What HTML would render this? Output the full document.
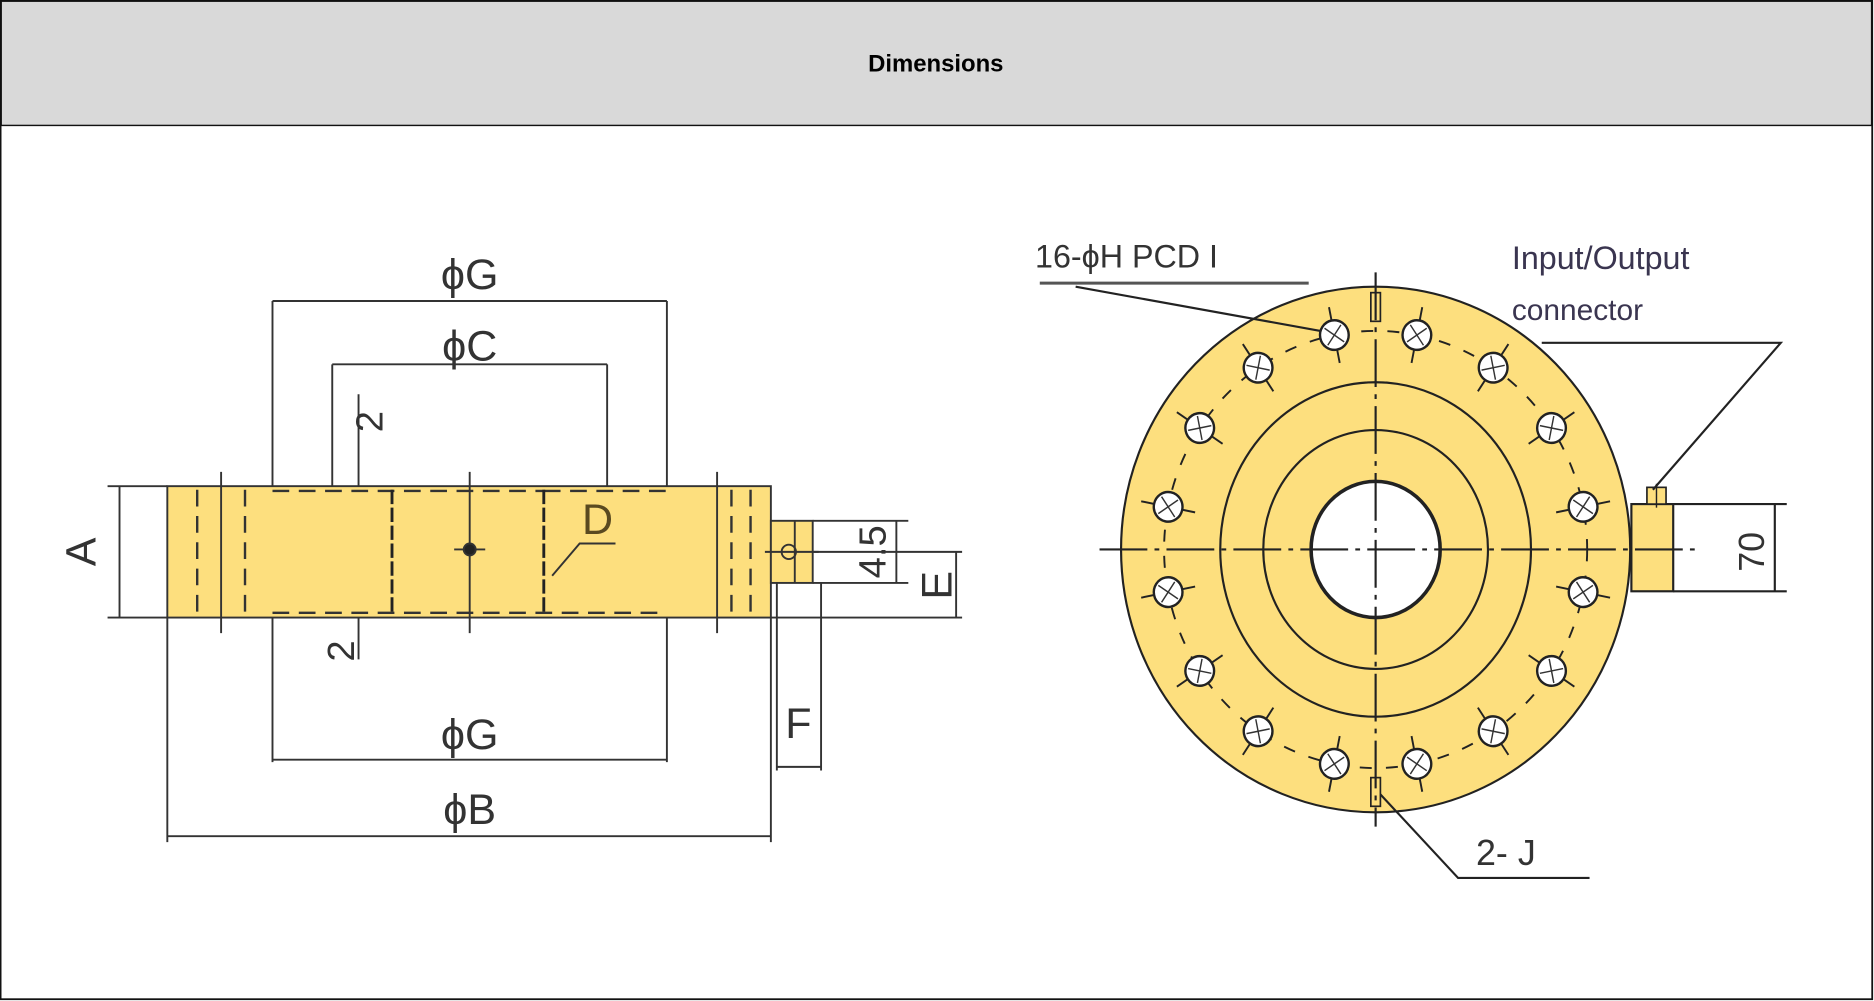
<!DOCTYPE html>
<html><head><meta charset="utf-8"><style>
html,body{margin:0;padding:0;background:#fff;}
svg{display:block;}
text{font-family:"Liberation Sans",sans-serif;fill:#333;}
</style></head><body>
<svg width="1874" height="1001" viewBox="0 0 1568 838" preserveAspectRatio="none" xmlns="http://www.w3.org/2000/svg">
<defs>
<g id="hole">
<line x1="0" y1="-200" x2="0" y2="-154" stroke="#222" stroke-width="1.6"/>
<circle cx="0" cy="-177" r="12" fill="#fff" stroke="#222" stroke-width="2"/>
<line x1="-7" y1="-184" x2="7" y2="-170" stroke="#333" stroke-width="1.2"/>
<line x1="7" y1="-184" x2="-7" y2="-170" stroke="#333" stroke-width="1.2"/>
</g>
</defs>
<rect x="0.5" y="0.5" width="1566" height="836" fill="#fff" stroke="#111" stroke-width="1.5"/>
<rect x="1" y="1" width="1565" height="104" fill="#d9d9d9" stroke="#111" stroke-width="1.2"/>
<text x="783" y="60" text-anchor="middle" font-size="20" font-weight="bold" style="fill:#000">Dimensions</text>

<!-- LEFT DRAWING -->
<g stroke="#333" stroke-width="1.6" fill="none">
<rect x="140" y="407" width="505" height="110" fill="#fddf7e" stroke="#333"/>
<rect x="645" y="436" width="35" height="52" fill="#fddf7e" stroke="#333"/>
<line x1="665" y1="436" x2="665" y2="488"/>
<line x1="640" y1="462" x2="685" y2="462"/>
<circle cx="660" cy="462" r="6"/>
<g stroke-dasharray="14,8" stroke-width="2">
<line x1="165" y1="410" x2="165" y2="517"/>
<line x1="205" y1="410" x2="205" y2="517"/>
<line x1="612" y1="410" x2="612" y2="517"/>
<line x1="628" y1="410" x2="628" y2="517"/>
<line x1="228" y1="411" x2="455" y2="411"/>
<line x1="455" y1="411" x2="558" y2="411"/>
<line x1="228" y1="513" x2="558" y2="513"/>
</g>
<g stroke-dasharray="12,3" stroke-width="2.4" stroke="#222">
<line x1="328" y1="410" x2="328" y2="515"/>
<line x1="455" y1="410" x2="455" y2="515"/>
</g>
<line x1="185" y1="395" x2="185" y2="530"/>
<line x1="600" y1="395" x2="600" y2="530"/>
<line x1="393" y1="395" x2="393" y2="530"/>
<line x1="380" y1="460" x2="406" y2="460"/>
<circle cx="393" cy="460" r="5" fill="#222"/>
<!-- phiG top -->
<line x1="228" y1="252" x2="558" y2="252"/>
<line x1="228" y1="252" x2="228" y2="407"/>
<line x1="558" y1="252" x2="558" y2="407"/>
<!-- phiC -->
<line x1="278" y1="305" x2="508" y2="305"/>
<line x1="278" y1="305" x2="278" y2="407"/>
<line x1="508" y1="305" x2="508" y2="407"/>
<line x1="300" y1="330" x2="300" y2="407"/>
<line x1="300" y1="517" x2="300" y2="552"/>
<!-- A -->
<line x1="90" y1="407" x2="140" y2="407"/>
<line x1="90" y1="517" x2="140" y2="517"/>
<line x1="100" y1="407" x2="100" y2="517"/>
<!-- phiG bottom -->
<line x1="228" y1="517" x2="228" y2="638"/>
<line x1="558" y1="517" x2="558" y2="638"/>
<line x1="228" y1="636" x2="558" y2="636"/>
<!-- phiB -->
<line x1="140" y1="517" x2="140" y2="705"/>
<line x1="645" y1="517" x2="645" y2="705"/>
<line x1="140" y1="700" x2="645" y2="700"/>
<!-- F -->
<line x1="650" y1="488" x2="650" y2="645"/>
<line x1="687" y1="488" x2="687" y2="645"/>
<line x1="650" y1="642" x2="687" y2="642"/>
<!-- 4.5 -->
<line x1="680" y1="436" x2="760" y2="436"/>
<line x1="680" y1="488" x2="760" y2="488"/>
<line x1="750" y1="436" x2="750" y2="488"/>
<!-- E -->
<line x1="680" y1="462" x2="805" y2="462"/>
<line x1="645" y1="517" x2="805" y2="517"/>
<line x1="800" y1="462" x2="800" y2="517"/>
<!-- D leader -->
<polyline points="462,482 485,455 515,455"/>
</g>
<g font-size="36">
<text x="393" y="242" text-anchor="middle">ϕG</text>
<text x="393" y="302" text-anchor="middle">ϕC</text>
<text x="393" y="627" text-anchor="middle">ϕG</text>
<text x="393" y="690" text-anchor="middle">ϕB</text>
<text x="668" y="618" text-anchor="middle">F</text>
<text x="500" y="447" text-anchor="middle" style="fill:#5a4a20">D</text>
<text transform="translate(80,462) rotate(-90)" text-anchor="middle">A</text>
<text transform="translate(796,490) rotate(-90)" text-anchor="middle">E</text>
<text transform="translate(741,462) rotate(-90)" text-anchor="middle" font-size="32">4.5</text>
<text transform="translate(320,353) rotate(-90)" text-anchor="middle" font-size="32">2</text>
<text transform="translate(296,545) rotate(-90)" text-anchor="middle" font-size="32">2</text>
</g>

<!-- RIGHT DRAWING -->
<g stroke="#222" stroke-width="1.8" fill="none">
<ellipse cx="1151" cy="460" rx="213" ry="220" fill="#fddf7e"/>
<ellipse cx="1151" cy="460" rx="177" ry="183" stroke-dasharray="10,12" stroke-width="1.6"/>
<ellipse cx="1151" cy="460" rx="130" ry="140"/>
<ellipse cx="1151" cy="460" rx="94" ry="100"/>
<ellipse cx="1151" cy="460" rx="54" ry="57" fill="#fff" stroke-width="3"/>
<rect x="1365" y="422" width="35" height="73" fill="#fddf7e"/>
<rect x="1378" y="408" width="16" height="14" fill="#fddf7e" stroke-width="1.4"/>
<line x1="1386" y1="405" x2="1386" y2="425" stroke-width="1.2"/>
<rect x="1147" y="245" width="8" height="24" fill="#fddf7e" stroke-width="1.4"/>
<rect x="1147" y="651" width="8" height="24" fill="#fddf7e" stroke-width="1.4"/>
<line x1="920" y1="460" x2="1420" y2="460" stroke-dasharray="40,6,4,6"/>
<line x1="1151" y1="228" x2="1151" y2="692" stroke-dasharray="40,6,4,6"/>
<!-- 70 -->
<line x1="1400" y1="422" x2="1495" y2="422"/>
<line x1="1400" y1="495" x2="1495" y2="495"/>
<line x1="1485" y1="422" x2="1485" y2="495"/>
<!-- leaders -->
<polyline points="1290,287 1490,287 1383,410"/>
<line x1="870" y1="237" x2="1095" y2="237" stroke-width="2.5" stroke="#555"/>
<line x1="900" y1="240" x2="1110" y2="278"/>
<polyline points="1155,665 1220,735 1330,735"/>
</g>
<g>
<use href="#hole" transform="translate(1151,460) scale(1,1.034) rotate(11.25)"/>
<use href="#hole" transform="translate(1151,460) scale(1,1.034) rotate(33.75)"/>
<use href="#hole" transform="translate(1151,460) scale(1,1.034) rotate(56.25)"/>
<use href="#hole" transform="translate(1151,460) scale(1,1.034) rotate(78.75)"/>
<use href="#hole" transform="translate(1151,460) scale(1,1.034) rotate(101.25)"/>
<use href="#hole" transform="translate(1151,460) scale(1,1.034) rotate(123.75)"/>
<use href="#hole" transform="translate(1151,460) scale(1,1.034) rotate(146.25)"/>
<use href="#hole" transform="translate(1151,460) scale(1,1.034) rotate(168.75)"/>
<use href="#hole" transform="translate(1151,460) scale(1,1.034) rotate(191.25)"/>
<use href="#hole" transform="translate(1151,460) scale(1,1.034) rotate(213.75)"/>
<use href="#hole" transform="translate(1151,460) scale(1,1.034) rotate(236.25)"/>
<use href="#hole" transform="translate(1151,460) scale(1,1.034) rotate(258.75)"/>
<use href="#hole" transform="translate(1151,460) scale(1,1.034) rotate(281.25)"/>
<use href="#hole" transform="translate(1151,460) scale(1,1.034) rotate(303.75)"/>
<use href="#hole" transform="translate(1151,460) scale(1,1.034) rotate(326.25)"/>
<use href="#hole" transform="translate(1151,460) scale(1,1.034) rotate(348.75)"/>
</g>
<text x="866" y="224" font-size="27">16-ϕH PCD I</text>
<text x="1265" y="225" font-size="27" style="fill:#3a3550">Input/Output</text>
<text x="1265" y="268" font-size="25" style="fill:#3a3550">connector</text>
<text x="1235" y="724" font-size="30">2- J</text>
<text transform="translate(1476,462) rotate(-90)" text-anchor="middle" font-size="30">70</text>
</svg>
</body></html>
